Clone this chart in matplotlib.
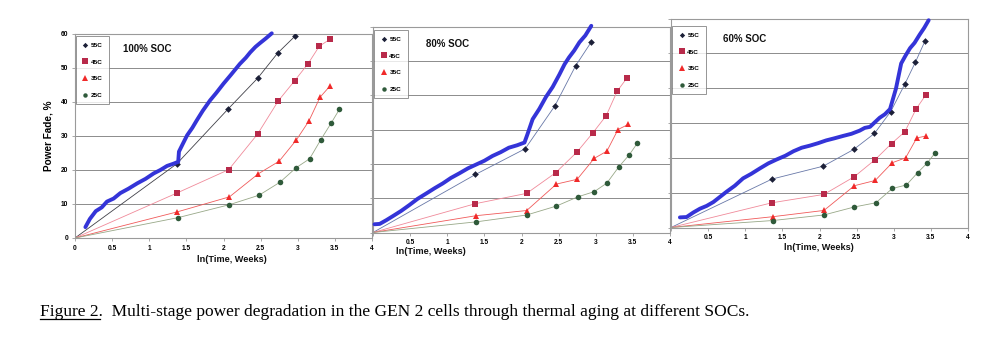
import matplotlib.pyplot as plt
from matplotlib.lines import Line2D

# ---- data ----
temps = ['55C', '45C', '35C', '25C']
soc_labels = ['100% SOC', '80% SOC', '60% SOC']

# 100% SOC
p1_blue_x = [0.14, 0.2, 0.28, 0.36, 0.43, 0.52, 0.61, 0.72, 0.84, 0.95, 1.06, 1.15, 1.24, 1.32, 1.39,
             1.40, 1.45, 1.51, 1.58, 1.64, 1.72, 1.82, 1.90, 2.00, 2.10, 2.22, 2.30, 2.36, 2.43, 2.49, 2.57, 2.65]
p1_blue_y = [3.2, 5.6, 7.9, 9.0, 10.7, 11.6, 13.2, 14.5, 16.1, 17.4, 19.0, 20.0, 21.2, 21.8, 22.4,
             25.4, 27.6, 30.2, 32.4, 34.6, 37.4, 40.5, 42.6, 45.4, 48.0, 51.2, 53.0, 54.6, 56.2, 57.3, 58.7, 60.2]
p1_55_x = [1.37, 2.06, 2.46, 2.73, 2.96]
p1_55_y = [21.8, 37.9, 47.0, 54.4, 59.3]
p1_45_x = [1.38, 2.07, 2.46, 2.74, 2.96, 3.14, 3.29, 3.43]
p1_45_y = [13.3, 20.1, 30.6, 40.4, 46.3, 51.3, 56.4, 58.4]
p1_35_x = [1.38, 2.08, 2.47, 2.75, 2.98, 3.15, 3.30, 3.43]
p1_35_y = [7.7, 12.1, 18.9, 22.6, 28.8, 34.4, 41.4, 44.6]
p1_25_x = [1.39, 2.08, 2.48, 2.76, 2.98, 3.16, 3.31, 3.45, 3.56]
p1_25_y = [6.0, 9.8, 12.6, 16.4, 20.7, 23.3, 28.9, 33.8, 37.8]

# 80% SOC
p2_blue_x = [0.02, 0.09, 0.18, 0.27, 0.38, 0.49, 0.60, 0.72, 0.83, 0.94, 1.05, 1.16, 1.28, 1.39, 1.50,
             1.61, 1.72, 1.83, 1.94, 2.04, 2.08, 2.15, 2.24, 2.33, 2.42, 2.51, 2.58, 2.64, 2.71, 2.78, 2.86, 2.94]
p2_blue_y = [2.4, 2.5, 3.6, 4.8, 6.3, 8.0, 9.8, 11.4, 12.9, 14.3, 15.9, 17.2, 18.7, 19.8, 20.9,
             22.3, 23.4, 24.7, 25.4, 26.2, 28.6, 33.0, 36.0, 39.5, 42.4, 46.0, 49.0, 51.0, 53.0, 55.4, 57.4, 60.2]
p2_55_x = [1.38, 2.05, 2.45, 2.73, 2.94]
p2_55_y = [16.9, 24.4, 36.9, 48.6, 55.5]
p2_45_x = [1.38, 2.07, 2.46, 2.75, 2.96, 3.14, 3.29, 3.42]
p2_45_y = [8.4, 11.4, 17.4, 23.5, 29.0, 34.0, 41.2, 45.0]
p2_35_x = [1.39, 2.07, 2.47, 2.75, 2.98, 3.15, 3.30, 3.44]
p2_35_y = [4.9, 6.4, 14.1, 15.5, 21.6, 23.7, 30.0, 31.5]
p2_25_x = [1.39, 2.07, 2.47, 2.76, 2.98, 3.15, 3.31, 3.45, 3.56]
p2_25_y = [3.1, 5.1, 7.7, 10.4, 11.9, 14.4, 19.1, 22.6, 26.0]

# 60% SOC
p3_blue_x = [0.12, 0.21, 0.30, 0.39, 0.48, 0.57, 0.66, 0.75, 0.86, 0.97, 1.08, 1.20, 1.31, 1.42, 1.54,
             1.65, 1.76, 1.87, 1.98, 2.09, 2.20, 2.32, 2.43, 2.54, 2.61, 2.68, 2.75, 2.81, 2.88, 2.95,
             3.03, 3.10, 3.16, 3.22, 3.28, 3.35, 3.41, 3.47]
p3_blue_y = [2.9, 3.0, 4.3, 5.4, 6.2, 7.3, 8.8, 10.3, 12.0, 14.1, 15.4, 17.0, 18.4, 19.5, 20.6,
             21.9, 22.9, 23.5, 24.2, 25.0, 25.6, 26.3, 26.9, 27.8, 28.6, 28.9, 30.3, 31.5, 32.5, 34.0,
             39.9, 47.1, 49.4, 51.5, 53.0, 55.4, 57.3, 59.5]
p3_55_x = [1.36, 2.05, 2.46, 2.74, 2.96, 3.15, 3.29, 3.42]
p3_55_y = [13.9, 17.6, 22.4, 27.0, 33.3, 41.2, 47.4, 53.5]
p3_45_x = [1.36, 2.06, 2.47, 2.75, 2.97, 3.15, 3.30, 3.43]
p3_45_y = [7.1, 9.5, 14.6, 19.5, 24.1, 27.5, 34.0, 38.0]
p3_35_x = [1.37, 2.06, 2.47, 2.75, 2.98, 3.16, 3.31, 3.44]
p3_35_y = [3.1, 4.9, 12.0, 13.5, 18.6, 20.0, 25.7, 26.3]
p3_25_x = [1.37, 2.06, 2.47, 2.76, 2.98, 3.17, 3.32, 3.45, 3.56]
p3_25_y = [2.0, 3.6, 5.9, 7.1, 11.2, 12.2, 15.7, 18.5, 21.5]

x_ticks = [0, 0.5, 1, 1.5, 2, 2.5, 3, 3.5, 4]
x_tick_labels = ['0', '0.5', '1', '1.5', '2', '2.5', '3', '3.5', '4']
y_ticks = [0, 10, 20, 30, 40, 50, 60]

panels = [
    (p1_blue_x, p1_blue_y, [(p1_55_x, p1_55_y), (p1_45_x, p1_45_y), (p1_35_x, p1_35_y), (p1_25_x, p1_25_y)]),
    (p2_blue_x, p2_blue_y, [(p2_55_x, p2_55_y), (p2_45_x, p2_45_y), (p2_35_x, p2_35_y), (p2_25_x, p2_25_y)]),
    (p3_blue_x, p3_blue_y, [(p3_55_x, p3_55_y), (p3_45_x, p3_45_y), (p3_35_x, p3_35_y), (p3_25_x, p3_25_y)]),
]

# ---- styles ----
W, H = 996, 361
sans = ['Liberation Sans', 'DejaVu Sans']
plt.rcParams['font.family'] = sans
plt.rcParams['font.weight'] = 'bold'

mk = ['D', 's', '^', 'o']
mk_size = [3.4, 4.8, 4.6, 4.0]
mk_color = ['#1c2038', '#b82a4a', '#f02a2a', '#2f5a3a']
line_col_p1 = ['#404048', '#f08a9a', '#f05a5a', '#98a888']
line_col_p23 = ['#6878a8', '#f08a9a', '#f05a5a', '#98a888']
blue = '#3434d8'
frame_col = '#9a9a9a'

# axes boxes in pixels: left, bottom(from top), right, top(from top)
boxes = [(75, 238, 372, 34), (373, 232.5, 670, 26.5), (671, 227.5, 968, 18.5)]
soc_pos = [(123, 49), (426, 44), (723, 39)]
leg_pos = [(75.5, 36), (374, 30), (672, 26)]
xlab_pos = [(232, 259), (431, 251), (819, 247)]

fig = plt.figure(figsize=(W / 100, H / 100), dpi=100)

for i, (bx, by, series) in enumerate(panels):
    l, b, r, t = boxes[i]
    ax = fig.add_axes([l / W, (H - b) / H, (r - l) / W, (b - t) / H])
    ax.set_xlim(0, 4)
    ax.set_ylim(0, 60)
    ax.set_yticks(y_ticks)
    ax.set_xticks(x_ticks)
    labels = list(x_tick_labels)
    if i > 0:
        labels[0] = ''  # the left neighbour's "4" sits on this spot
    ax.set_xticklabels(labels, fontsize=4.8, fontweight='bold')
    if i == 0:
        ax.set_yticklabels([str(v) for v in y_ticks], fontsize=4.8, fontweight='bold')
        ax.set_ylabel('Power Fade, %', fontsize=7.2, fontweight='bold', labelpad=5)
    else:
        ax.set_yticklabels([])
    ax.tick_params(axis='both', length=2, width=0.6, color=frame_col, pad=3)
    for s in ax.spines.values():
        s.set_color(frame_col)
        s.set_linewidth(0.8)
    ax.grid(axis='y', color='#8c8c8c', linewidth=0.7)
    ax.set_axisbelow(True)

    lcols = line_col_p1 if i == 0 else line_col_p23
    for k, (sx, sy) in enumerate(series):
        ax.plot([0] + sx, [0] + sy, color=lcols[k], linewidth=0.6, zorder=2)
        ax.plot(sx, sy, linestyle='none', marker=mk[k], markersize=mk_size[k],
                color=mk_color[k], markeredgewidth=0, zorder=3)
    ax.plot(bx, by, color=blue, linewidth=2.8, solid_capstyle='round', zorder=4, clip_on=False)

    # legend box
    lx, ly = leg_pos[i]
    handles = [Line2D([], [], linestyle='none', marker=mk[k], markersize=mk_size[k] * 0.8,
                      color=mk_color[k], markeredgewidth=0) for k in range(4)]
    leg = ax.legend(handles, temps, loc='upper left',
                    bbox_to_anchor=((lx - l) / (r - l), 1 - (ly - t) / (b - t)),
                    prop={'size': 4.6, 'weight': 'bold'}, frameon=True, fancybox=False,
                    borderpad=1.0, labelspacing=1.75, handlelength=1.1, handletextpad=0.3,
                    borderaxespad=0)
    leg.get_frame().set_edgecolor('#7a7a7a')
    leg.get_frame().set_linewidth(0.7)

    sx_, sy_ = soc_pos[i]
    fig.text(sx_ / W, 1 - sy_ / H, soc_labels[i], fontsize=7, fontweight='bold',
             ha='left', va='center', color='#111111')
    xx, xy = xlab_pos[i]
    fig.text(xx / W, 1 - xy / H, 'ln(Time, Weeks)', fontsize=6.6, fontweight='bold',
             ha='center', va='center', color='#111111')

# caption with underlined "Figure 2."
serif = ['Liberation Serif', 'DejaVu Serif']
cap_y = 1 - 316 / H
t1 = fig.text(40 / W, cap_y, 'Figure 2.', fontsize=12.5, family=serif, fontweight='normal',
              ha='left', va='baseline')
t2 = fig.text(40 / W, cap_y, 'Figure 2.  Multi-stage power degradation in the GEN 2 cells through '
              'thermal aging at different SOCs.', fontsize=12.5, family=serif,
              fontweight='normal', ha='left', va='baseline')
t1.set_alpha(0)
fig.canvas.draw()
bb = t1.get_window_extent()
fig.add_artist(Line2D([bb.x0 / W, (bb.x1 - 3) / W], [cap_y - 2.5 / H, cap_y - 2.5 / H],
                      color='black', linewidth=0.9))

fig.savefig('out.png', dpi=100, facecolor='white')
